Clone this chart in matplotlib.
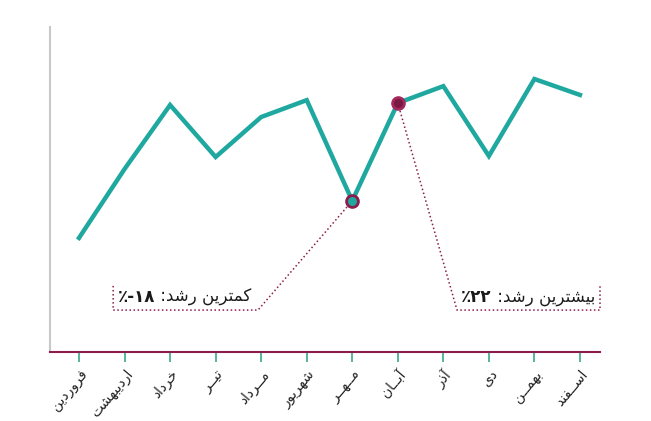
import matplotlib
matplotlib.use('Agg')
import matplotlib.pyplot as plt
from matplotlib.font_manager import findfont, FontProperties
from matplotlib.ft2font import FT2Font
from matplotlib.offsetbox import TextArea, HPacker, AnnotationBbox

# data (no y scale shown, so 0-100 relative units)
months = ['فروردین', 'اردیبهشت', 'خرداد', 'تیــر', 'مــرداد', 'شهریور',
          'مــهــر', 'آبــان', 'آذر', 'دی', 'بهمــن', 'اســفند']
values = [35.1, 56.3, 76.0, 60.0, 72.3, 77.5, 46.5, 76.6, 81.8, 60.3, 84.0, 79.1]
low_idx, high_idx = 6, 7
low_num, low_text = '٪-۱۸', 'کمترین رشد: '
high_num, high_text = '٪۲۲', 'بیشترین رشد: '

TEAL = '#1fa89f'
CRIMSON = '#8c1c4c'

# tiny arabic-script shaper: (isolated, final, initial, medial)
FORMS = {
    'ا': ('\uFE8D', '\uFE8E', None, None),
    'آ': ('\uFE81', '\uFE82', None, None),
    'ب': ('\uFE8F', '\uFE90', '\uFE91', '\uFE92'),
    'ت': ('\uFE95', '\uFE96', '\uFE97', '\uFE98'),
    'خ': ('\uFEA5', '\uFEA6', '\uFEA7', '\uFEA8'),
    'د': ('\uFEA9', '\uFEAA', None, None),
    'ذ': ('\uFEAB', '\uFEAC', None, None),
    'ر': ('\uFEAD', '\uFEAE', None, None),
    'ز': ('\uFEAF', '\uFEB0', None, None),
    'س': ('\uFEB1', '\uFEB2', '\uFEB3', '\uFEB4'),
    'ش': ('\uFEB5', '\uFEB6', '\uFEB7', '\uFEB8'),
    'ف': ('\uFED1', '\uFED2', '\uFED3', '\uFED4'),
    'م': ('\uFEE1', '\uFEE2', '\uFEE3', '\uFEE4'),
    'ن': ('\uFEE5', '\uFEE6', '\uFEE7', '\uFEE8'),
    'ه': ('\uFEE9', '\uFEEA', '\uFEEB', '\uFEEC'),
    'و': ('\uFEED', '\uFEEE', None, None),
    'ی': ('\uFBFC', '\uFBFD', '\uFBFE', '\uFBFF'),
    'ک': ('\uFB8E', '\uFB8F', '\uFB90', '\uFB91'),
    'ـ': ('ـ', 'ـ', 'ـ', 'ـ'),
}
cmap = FT2Font(findfont(FontProperties(family='DejaVu Sans'))).get_charmap()
if 0xFBFC not in cmap:
    FORMS['ی'] = ('\uFEEF', '\uFEF0', '\uFEF3', '\uFEF4')
if 0xFB8E not in cmap:
    FORMS['ک'] = ('\uFED9', '\uFEDA', '\uFEDB', '\uFEDC')


def shape(s):
    out = []
    for i, ch in enumerate(s):
        if ch not in FORMS:
            out.append(ch)
            continue
        prev = s[i - 1] if i > 0 else None
        nxt = s[i + 1] if i + 1 < len(s) else None
        jp = prev in FORMS and FORMS[prev][2] is not None
        jn = FORMS[ch][2] is not None and nxt in FORMS
        iso, fin, ini, med = FORMS[ch]
        out.append(med if (jp and jn) else fin if jp else ini if jn else iso)
    return ''.join(out)


def rtl(s):
    return shape(s)[::-1]


plt.rcParams['font.family'] = ['DejaVu Sans']

fig = plt.figure(figsize=(6.51, 4.21), dpi=100)
ax = fig.add_axes([50 / 651, 1 - 352 / 421, 550 / 651, 325 / 421])
x = list(range(len(values)))

ax.plot(x, values, color=TEAL, lw=3.2, solid_joinstyle='miter', zorder=3)
ax.plot(x[low_idx], values[low_idx], 'o', ms=8.5, mfc=TEAL, mec=CRIMSON, mew=2, zorder=4)
ax.plot(x[high_idx], values[high_idx], 'o', ms=8.5, mfc='#7a1a42', mec='#a3285c', mew=2, zorder=4)

ax.set_xlim(-0.637, 11.44)
ax.set_ylim(0, 100)

# callout leaders
y_box_bot, y_box_top, y_text = 12.9, 20.6, 16.9
ax.plot([x[low_idx], 3.93, 0.75, 0.75], [values[low_idx], y_box_bot, y_box_bot, y_box_top],
        ls=':', color=CRIMSON, lw=1.1, zorder=2)
ax.plot([x[high_idx], 8.3, 11.44, 11.44], [values[high_idx], y_box_bot, y_box_bot, y_box_top],
        ls=':', color=CRIMSON, lw=1.1, zorder=2, clip_on=False)


def callout(num, words, xy, align):
    box = HPacker(children=[
        TextArea(num, textprops=dict(fontsize=12, fontweight='bold', color='#1a1a1a')),
        TextArea(rtl(words), textprops=dict(fontsize=12, color='#1a1a1a')),
    ], pad=0, sep=0, align='baseline')
    ab = AnnotationBbox(box, xy, xycoords='data', box_alignment=(align, 0.5),
                        frameon=False, pad=0, annotation_clip=False)
    ax.add_artist(ab)


callout(low_num, low_text, (0.85, y_text), 0)
callout(high_num, high_text, (11.33, y_text), 1)

for side in ['top', 'right']:
    ax.spines[side].set_visible(False)
ax.spines['left'].set_color('#c8c8c8')
ax.spines['left'].set_linewidth(1.5)
ax.spines['bottom'].set_color(CRIMSON)
ax.spines['bottom'].set_linewidth(1.5)

ax.set_yticks([])
ax.set_xticks(x)
ax.set_xticklabels([rtl(m) for m in months], rotation=50, ha='right',
                   rotation_mode='anchor', fontsize=10, color='#222222')
ax.tick_params(axis='x', length=7, width=1.2, color='#3aa88a', pad=4)

fig.savefig('out.png', dpi=100, facecolor='white')
